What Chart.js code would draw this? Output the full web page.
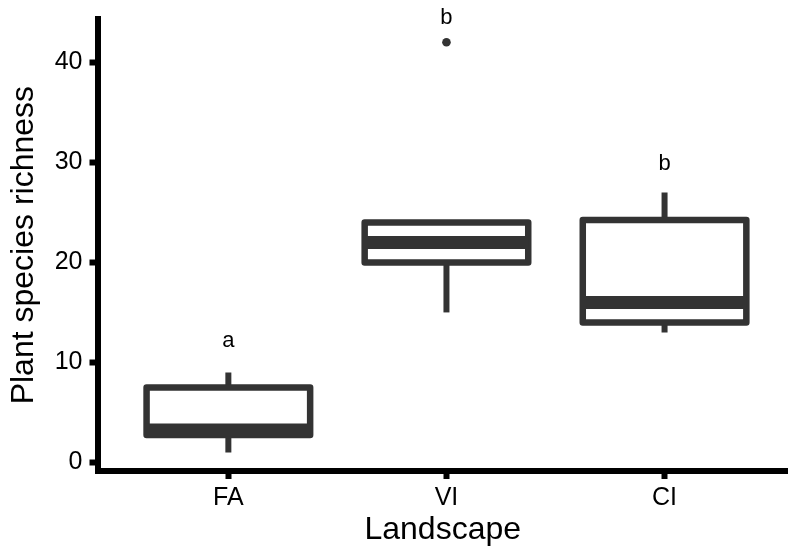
<!DOCTYPE html>
<html>
<head>
<meta charset="utf-8">
<script src="https://cdn.jsdelivr.net/npm/chart.js@4/dist/chart.umd.min.js"></script>
<style>
  html, body { margin: 0; padding: 0; background: #fff; overflow: hidden; }
  canvas { display: block; }
</style>
</head>
<body>
<canvas id="boxChart" width="788" height="550"></canvas>
<script>
// --- data ---
const categories = ['FA', 'VI', 'CI'];
const whiskerLow = [1, 15, 13];
const q1 = [2.75, 20, 14];
const median = [3.25, 22, 16];
const q3 = [7.5, 24, 24.25];
const whiskerHigh = [9, 24, 27];
const outliers = [{ x: 2, y: 42 }];
const letters = ['a', 'b', 'b'];
const letterY = [12.2, 44.4, 29.8];
const yTicks = [0, 10, 20, 30, 40];

const ink = '#333333';
const font = "'Liberation Sans', Arial, Helvetica, sans-serif";

// pin the plot panel where the reference has it (panel runs off the right edge)
const panelPlugin = {
    id: 'panel',
    afterLayout(chart) {
        const { x, y } = chart.scales;
        const a = chart.chartArea;
        a.left = 97.5; a.right = 788; a.top = 19.3; a.bottom = 471;
        a.width = a.right - a.left; a.height = a.bottom - a.top;
        x.left = a.left; x.right = a.right; x.width = a.width;
        x.top = a.bottom; x.bottom = 550; x.height = x.bottom - x.top;
        y.top = a.top; y.bottom = a.bottom; y.height = a.height;
        y.left = 0; y.right = a.left; y.width = a.left;
        x.configure();
        y.configure();
    }
};

// box plots drawn through the chart scales
const boxPlugin = {
    id: 'boxes',
    beforeDatasetsDraw(chart) {
        const { ctx, scales: { x, y } } = chart;
        const half = 0.375;
        ctx.save();
        ctx.strokeStyle = ink;
        ctx.lineCap = 'butt';
        categories.forEach((c, i) => {
            const cx = x.getPixelForValue(i + 1);
            const left = x.getPixelForValue(i + 1 - half);
            const right = x.getPixelForValue(i + 1 + half);
            const yq1 = y.getPixelForValue(q1[i]);
            const yq3 = y.getPixelForValue(q3[i]);
            // whiskers
            ctx.lineWidth = 6;
            ctx.beginPath();
            ctx.moveTo(cx, yq3);
            ctx.lineTo(cx, y.getPixelForValue(whiskerHigh[i]));
            ctx.moveTo(cx, yq1);
            ctx.lineTo(cx, y.getPixelForValue(whiskerLow[i]));
            ctx.stroke();
            // box
            ctx.lineWidth = 6.5;
            ctx.lineJoin = 'round';
            ctx.fillStyle = '#fff';
            ctx.beginPath();
            ctx.rect(left, yq3, right - left, yq1 - yq3);
            ctx.fill();
            ctx.stroke();
            // median
            ctx.lineWidth = 13;
            ctx.beginPath();
            ctx.moveTo(left, y.getPixelForValue(median[i]));
            ctx.lineTo(right, y.getPixelForValue(median[i]));
            ctx.stroke();
            // letters
            ctx.fillStyle = '#000';
            ctx.font = '22px ' + font;
            ctx.textAlign = 'center';
            ctx.textBaseline = 'middle';
            ctx.fillText(letters[i], cx, y.getPixelForValue(letterY[i]));
        });
        ctx.restore();
    }
};

const axisGrid = {
    display: true,
    drawOnChartArea: false,
    drawTicks: true,
    tickLength: 8,
    tickWidth: 6,
    tickColor: '#000'
};

new Chart(document.getElementById('boxChart'), {
    type: 'scatter',
    data: {
        datasets: [{
            label: 'outliers',
            data: outliers,
            pointRadius: 4.3,
            pointBackgroundColor: ink,
            pointBorderWidth: 0
        }]
    },
    options: {
        responsive: false,
        animation: false,
        devicePixelRatio: 1,
        layout: { padding: { top: 19, right: 0, left: 0, bottom: 0 } },
        plugins: { legend: { display: false }, tooltip: { enabled: false } },
        scales: {
            x: {
                type: 'linear',
                min: 0.4,
                max: 3.566,
                afterBuildTicks: s => { s.ticks = categories.map((c, i) => ({ value: i + 1 })); },
                afterFit: s => { s.height = 79; },
                ticks: {
                    color: '#000',
                    font: { family: font, size: 25 },
                    padding: 4,
                    callback: v => categories[v - 1]
                },
                grid: axisGrid,
                border: { display: true, color: '#000', width: 6 },
                title: {
                    display: true,
                    text: 'Landscape',
                    color: '#000',
                    font: { family: font, size: 32 },
                    padding: { top: 0, bottom: 1 }
                }
            },
            y: {
                min: -0.85,
                max: 44.3,
                afterBuildTicks: s => { s.ticks = yTicks.map(v => ({ value: v })); },
                afterFit: s => { s.width = 97.5; },
                ticks: {
                    color: '#000',
                    font: { family: font, size: 25 },
                    padding: 7
                },
                grid: axisGrid,
                border: { display: true, color: '#000', width: 6 },
                title: {
                    display: true,
                    text: 'Plant species richness',
                    color: '#000',
                    font: { family: font, size: 32 },
                    padding: { top: 5, bottom: 0 }
                }
            }
        }
    },
    plugins: [panelPlugin, boxPlugin]
});
</script>
</body>
</html>
